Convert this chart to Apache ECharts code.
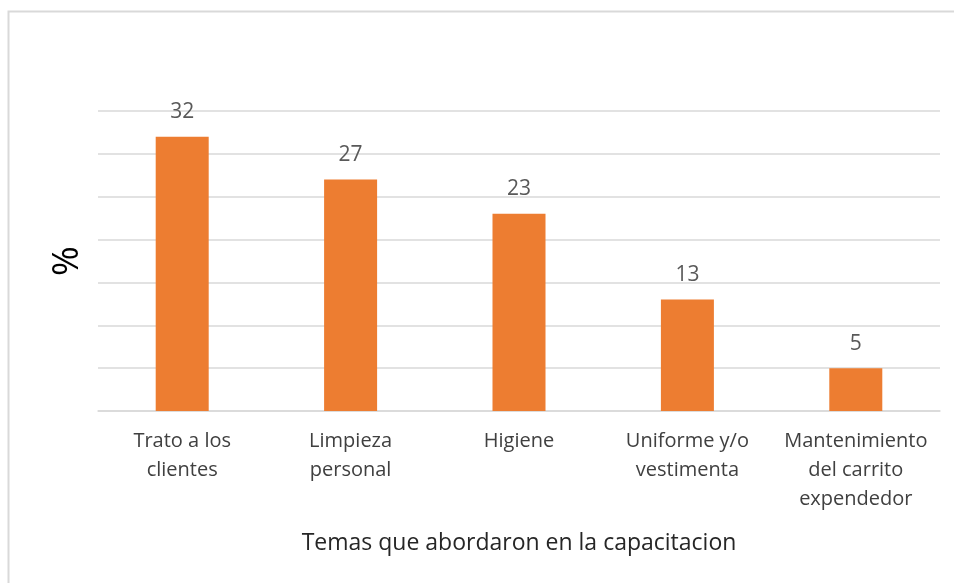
<!DOCTYPE html>
<html>
<head>
<meta charset="utf-8">
<script src="https://cdn.jsdelivr.net/npm/echarts@6/dist/echarts.min.js"></script>
<style>
  html, body { margin: 0; padding: 0; background: #fff; }
  #chart { width: 954px; height: 583px; }
</style>
</head>
<body>
<div id="chart"></div>
<script>
// datos
const categorias = [
  'Trato a los\nclientes',
  'Limpieza\npersonal',
  'Higiene',
  'Uniforme y/o\nvestimenta',
  'Mantenimiento\ndel carrito\nexpendedor'
]
const porcentajes = [32, 27, 23, 13, 5]
const ejeY = { min: 0, max: 35, interval: 5 }

const fuente = '"Open Sans", "Noto Sans", sans-serif'

var myChart = echarts.init(document.getElementById('chart'), null, { renderer: 'canvas' })

var option = {
  backgroundColor: '#fff',
  animation: false,
  graphic: [
    {
      type: 'rect',
      shape: { x: 8.5, y: 11.5, width: 1000, height: 700 },
      style: { fill: 'none', stroke: '#d9d9d9', lineWidth: 2 },
      silent: true
    }
  ],
  grid: {
    left: 98,
    right: 14,
    top: 111,
    bottom: 172
  },
  xAxis: {
    type: 'category',
    data: categorias,
    name: 'Temas que abordaron en la capacitacion',
    nameLocation: 'middle',
    nameGap: 121,
    nameTextStyle: { fontFamily: fuente, fontSize: 23, color: '#262626' },
    axisLine: { show: true, lineStyle: { color: '#d9d9d9', width: 1.5 } },
    axisTick: { show: false },
    axisLabel: {
      interval: 0,
      margin: 16,
      fontFamily: fuente,
      fontSize: 20,
      lineHeight: 29,
      color: '#404040'
    }
  },
  yAxis: {
    type: 'value',
    min: ejeY.min,
    max: ejeY.max,
    interval: ejeY.interval,
    name: '%',
    nameLocation: 'middle',
    nameGap: 12,
    nameTextStyle: { fontFamily: fuente, fontSize: 36, color: '#000' },
    axisLine: { show: false },
    axisTick: { show: false },
    axisLabel: { show: false },
    splitLine: { show: true, lineStyle: { color: '#d9d9d9', width: 1.5 } }
  },
  series: [
    {
      type: 'bar',
      data: porcentajes,
      barWidth: 53,
      itemStyle: { color: '#ED7D31' },
      label: {
        show: true,
        position: 'top',
        distance: 14,
        fontFamily: fuente,
        fontSize: 21,
        color: '#595959'
      }
    }
  ]
}

myChart.setOption(option, true)
</script>
</body>
</html>
